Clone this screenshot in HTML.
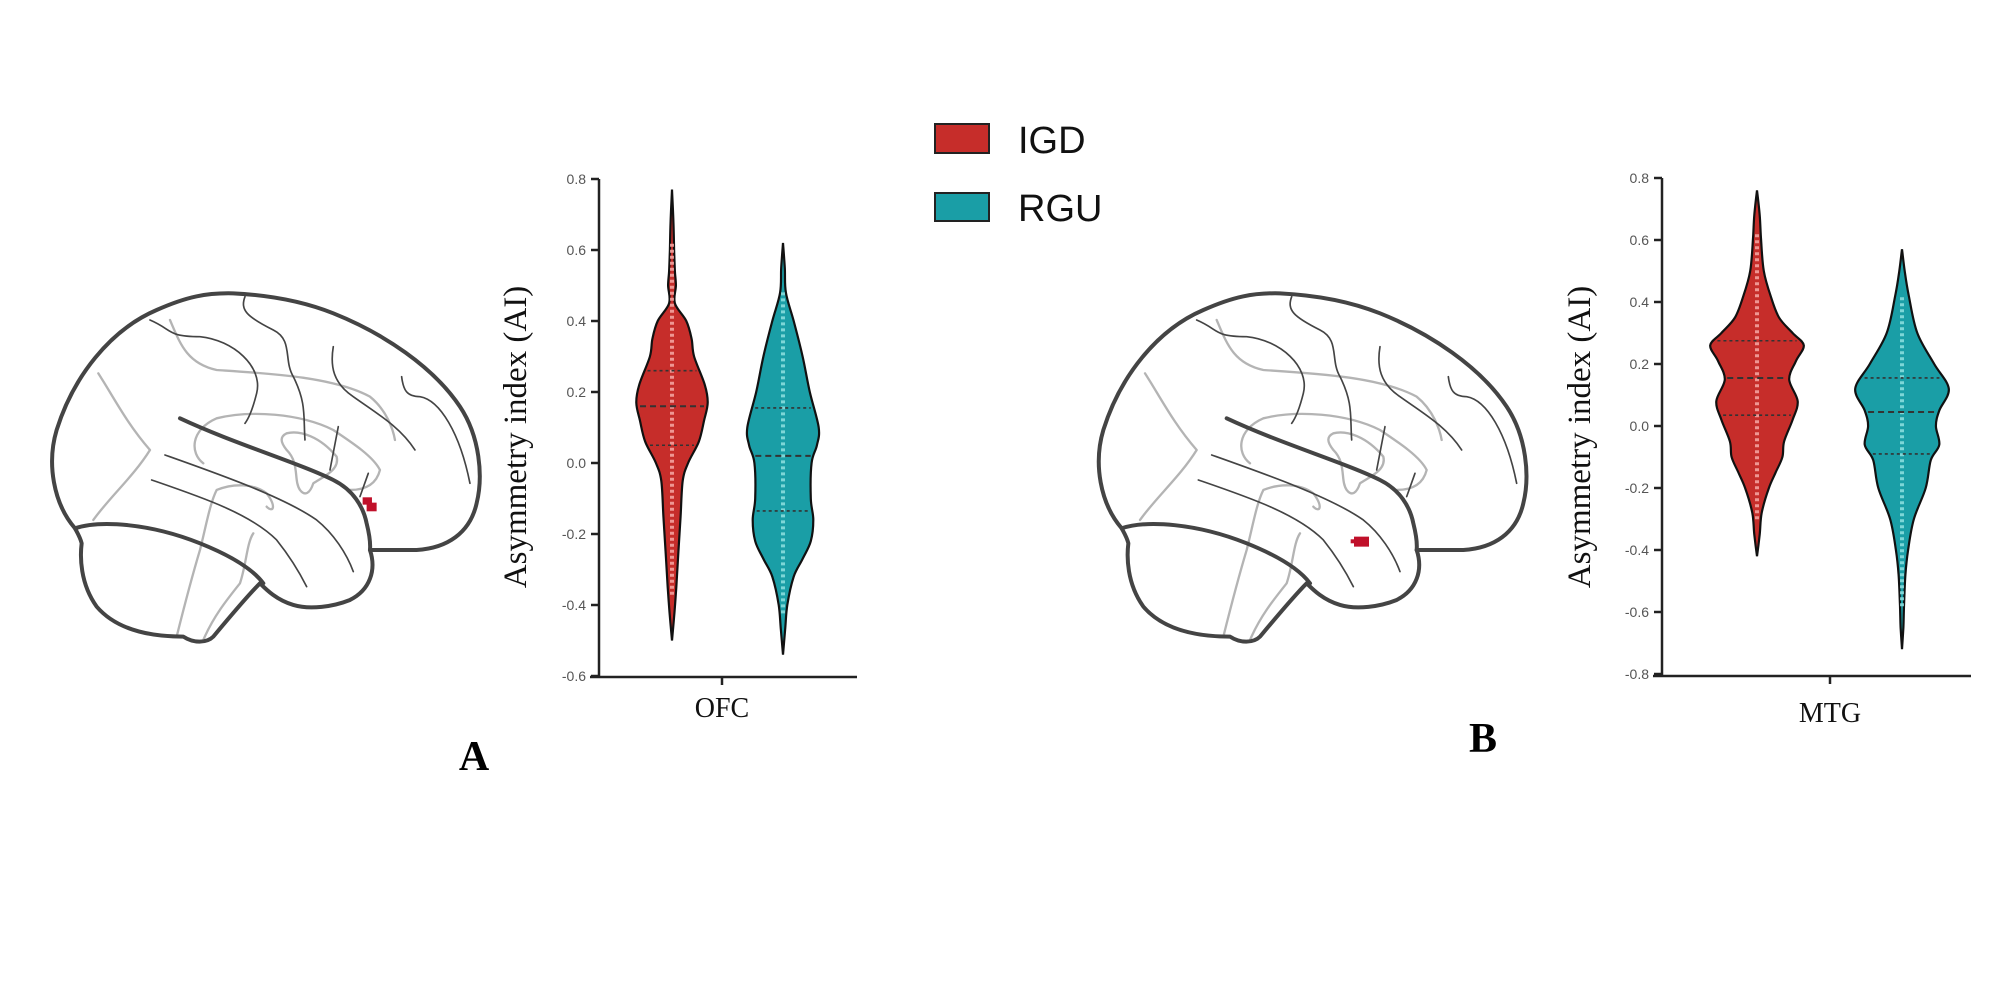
<!DOCTYPE html>
<html><head><meta charset="utf-8">
<style>
html,body{margin:0;padding:0;background:#fff;}
svg{display:block;}
</style></head>
<body>
<svg id="s" width="2008" height="992" viewBox="0 0 2008 992" xmlns="http://www.w3.org/2000/svg">
<defs>
<g id="brain" fill="none" stroke-linecap="round" stroke-linejoin="round">
  <g stroke="#b4b4b4" stroke-width="7">
    <path d="M295,370 C340,440 380,520 450,600 C400,680 330,740 280,810"/>
    <path d="M510,210 C540,280 560,340 650,360 C800,370 1000,380 1110,440 C1160,480 1180,540 1185,570"/>
    <path d="M610,640 C570,610 570,540 650,505 C750,480 900,490 1000,540 C1060,580 1120,620 1140,660 C1130,700 1100,720 1050,720"/>
    <path d="M860,550 C900,540 960,560 1010,620 C1020,660 970,680 940,700 C930,730 915,740 900,720 C880,690 900,640 860,600 C840,575 840,560 860,550"/>
    <path d="M530,1160 C550,1080 570,1000 600,900 C620,820 630,760 650,720 C700,700 760,700 800,730 C830,770 820,790 800,770"/>
    <path d="M610,1170 C640,1100 680,1050 720,1000 C740,940 740,880 760,850"/>
  </g>
  <g stroke="#444" stroke-width="5">
    <path d="M495,615 C650,670 850,740 950,810 C1000,850 1040,910 1060,965"/>
    <path d="M455,690 C600,740 750,790 830,870 C870,920 900,970 920,1010"/>
    <path d="M450,210 C520,240 500,260 600,260 C700,270 790,350 770,430 C760,470 750,500 735,520"/>
    <path d="M735,140 C720,180 740,200 820,240 C880,270 850,330 880,380 C920,460 910,500 915,570"/>
    <path d="M1000,290 C990,350 1000,400 1060,440 C1130,490 1200,530 1245,600"/>
    <path d="M1205,380 C1210,420 1220,440 1260,440 C1320,450 1380,550 1410,700"/>
    <path d="M1015,530 L990,660"/>
    <path d="M1105,670 L1080,740"/>
  </g>
  <g stroke="#444" stroke-width="12">
    <path d="M540,505 C700,580 900,640 1000,690 C1060,720 1090,770 1100,820 C1110,860 1112,880 1110,900"/>
    <path d="M225,835 C300,810 450,820 600,880 C700,920 760,960 790,1000"/>
    <path d="M225,835 C160,760 140,640 170,540 C220,380 330,240 470,180 C560,140 620,128 700,130 C800,135 900,150 1000,190 C1150,250 1300,350 1380,470 C1440,560 1450,680 1430,760 C1410,850 1340,895 1250,900 L1110,900 C1130,960 1110,1020 1050,1050 C1000,1070 930,1080 880,1065 C830,1050 800,1020 780,1000 C740,1040 690,1100 640,1160 C620,1180 580,1180 550,1160 C450,1160 350,1140 290,1070 C240,1000 240,920 245,880 C240,860 230,845 225,835 Z"/>
  </g>
</g>
</defs>

<!-- Brain A -->
<g transform="translate(0,250) scale(0.3333)">
  <use href="#brain"/>
  <rect x="1088" y="742" width="28" height="22" fill="#c0102a"/>
  <rect x="1100" y="758" width="30" height="26" fill="#c0102a"/>
</g>
<!-- Brain B -->
<g transform="translate(1046.7,250) scale(0.3333)">
  <use href="#brain"/>
  <rect x="922" y="860" width="45" height="30" fill="#c0102a"/>
  <rect x="912" y="868" width="14" height="12" fill="#c0102a"/>
</g>

<text x="474" y="770" font-family="Liberation Serif, serif" font-weight="bold" font-size="42" text-anchor="middle">A</text>
<text x="1483" y="752" font-family="Liberation Serif, serif" font-weight="bold" font-size="42" text-anchor="middle">B</text>

<!-- Legend -->
<rect x="935" y="124" width="54" height="29" fill="#c62d2a" stroke="#222" stroke-width="2"/>
<rect x="935" y="193" width="54" height="28" fill="#1a9ea6" stroke="#222" stroke-width="2"/>
<text x="1018" y="153" font-family="Liberation Sans, sans-serif" font-size="38" fill="#111">IGD</text>
<text x="1018" y="221" font-family="Liberation Sans, sans-serif" font-size="38" fill="#111">RGU</text>

<g id="charts"></g>
</svg>
<script>
(function(){
var NS="http://www.w3.org/2000/svg";
var root=document.getElementById('charts');
function el(tag,attrs,txt){var e=document.createElementNS(NS,tag);for(var k in attrs)e.setAttribute(k,attrs[k]);if(txt!==undefined)e.textContent=txt;root.appendChild(e);return e;}
function smooth(pts){ // catmull-rom
  var d="M"+pts[0][0].toFixed(1)+","+pts[0][1].toFixed(1);
  for(var i=0;i<pts.length-1;i++){
    var p0=pts[i-1]||pts[i],p1=pts[i],p2=pts[i+1],p3=pts[i+2]||p2;
    var c1=[p1[0]+(p2[0]-p0[0])/6,p1[1]+(p2[1]-p0[1])/6];
    var c2=[p2[0]-(p3[0]-p1[0])/6,p2[1]-(p3[1]-p1[1])/6];
    d+=" C"+c1[0].toFixed(1)+","+c1[1].toFixed(1)+" "+c2[0].toFixed(1)+","+c2[1].toFixed(1)+" "+p2[0].toFixed(1)+","+p2[1].toFixed(1);
  }
  return d;
}
function violin(cx,yf,hf,prof,fill,dotc,quart){
  // prof: [[value, halfwidth(zoom units)]] from top to bottom
  var right=prof.map(function(p){return [cx+p[1]*hf,yf(p[0])];});
  var left=prof.slice().reverse().map(function(p){return [cx-p[1]*hf,yf(p[0])];});
  var d=smooth(right)+" L"+left[0][0].toFixed(1)+","+left[0][1].toFixed(1)+smooth(left).replace(/^M[^C]*/," ")+" Z";
  el('path',{d:d,fill:fill,stroke:"#111","stroke-width":2.2});
  var top=yf(prof[0][0]),bot=yf(prof[prof.length-1][0]);
  // dots
  var y0=top+(bot-top)*0.12,y1=bot-(bot-top)*0.1;
  el('line',{x1:cx,y1:y0,x2:cx,y2:y1,stroke:dotc,"stroke-width":4,"stroke-dasharray":"3 3",opacity:0.85});
  quart.forEach(function(q,i){
    var y=yf(q);
    // width at q
    var w=0;
    for(var j=0;j<prof.length-1;j++){var a=prof[j],b=prof[j+1];if(q<=a[0]&&q>=b[0]){var t=(a[0]-q)/(a[0]-b[0]);w=a[1]+(b[1]-a[1])*t;}}
    w=w*hf-3;
    el('line',{x1:cx-w,y1:y,x2:cx+w,y2:y,stroke:"#333","stroke-width":i==1?2:1.6,"stroke-dasharray":i==1?"6 4":"3 3"});
  });
}
function axis(ax,ytop,ybot,xend,tickx,ticks,yf,label,lx,ly,cat,caty){
  el('line',{x1:ax,y1:ytop,x2:ax,y2:ybot+1,stroke:"#222","stroke-width":2.5});
  el('line',{x1:ax-9,y1:ybot,x2:xend,y2:ybot,stroke:"#222","stroke-width":2.5});
  el('line',{x1:tickx,y1:ybot,x2:tickx,y2:ybot+8,stroke:"#222","stroke-width":2.5});
  ticks.forEach(function(t){
    var y=yf(t);
    el('line',{x1:ax-8,y1:y,x2:ax,y2:y,stroke:"#222","stroke-width":2.5});
    el('text',{x:ax-13,y:y+5,"text-anchor":"end","font-family":"Liberation Sans, sans-serif","font-size":14,fill:"#555"},t.toFixed(1));
  });
  el('text',{x:lx,y:ly,"text-anchor":"middle","font-family":"Liberation Serif, serif","font-size":33,fill:"#111",transform:"rotate(-90 "+lx+" "+ly+")"},label);
  el('text',{x:tickx,y:caty,"text-anchor":"middle","font-family":"Liberation Serif, serif","font-size":28,fill:"#111"},cat);
}
// Chart A
var yA=function(v){return 463-v*355;};
axis(599,179,677,857,722,[0.8,0.6,0.4,0.2,0.0,-0.2,-0.4,-0.6],yA,"Asymmetry index (AI)",526,437,"OFC",717);
violin(672,yA,0.357,[[0.77,0],[0.68,4],[0.6,6],[0.54,8],[0.5,11],[0.45,8],[0.4,40],[0.35,55],[0.3,62],[0.22,92],[0.17,100],[0.12,90],[0.06,75],[0.0,45],[-0.05,30],[-0.15,24],[-0.25,18],[-0.35,12],[-0.42,7],[-0.5,0]],"#c62d2a","#f6a9a6",[0.26,0.16,0.05]);
violin(783,yA,0.357,[[0.62,0],[0.55,5],[0.48,8],[0.4,30],[0.3,55],[0.2,75],[0.1,100],[0.05,95],[0.0,80],[-0.1,78],[-0.16,85],[-0.22,78],[-0.27,55],[-0.32,30],[-0.4,12],[-0.47,6],[-0.54,0]],"#1a9ea6","#8fe0e0",[0.155,0.02,-0.135]);
// Chart B
var yB=function(v){return 178+(0.8-v)*310;};
axis(1662,178,676,1971,1830,[0.8,0.6,0.4,0.2,0.0,-0.2,-0.4,-0.6,-0.8],yB,"Asymmetry index (AI)",1590,437,"MTG",722);
violin(1757,yB,0.339,[[0.76,0],[0.68,8],[0.6,12],[0.5,20],[0.42,40],[0.35,65],[0.3,105],[0.26,138],[0.21,115],[0.15,95],[0.08,120],[0.02,105],[-0.05,80],[-0.1,75],[-0.15,55],[-0.2,35],[-0.28,14],[-0.35,8],[-0.42,0]],"#c62d2a","#f6a9a6",[0.275,0.155,0.035]);
violin(1902,yB,0.339,[[0.57,0],[0.5,8],[0.42,20],[0.3,45],[0.2,95],[0.12,138],[0.05,110],[0.0,100],[-0.06,110],[-0.11,85],[-0.2,70],[-0.3,35],[-0.4,18],[-0.48,10],[-0.58,6],[-0.65,4],[-0.72,0]],"#1a9ea6","#8fe0e0",[0.155,0.045,-0.09]);
})();
</script>
</body></html>
